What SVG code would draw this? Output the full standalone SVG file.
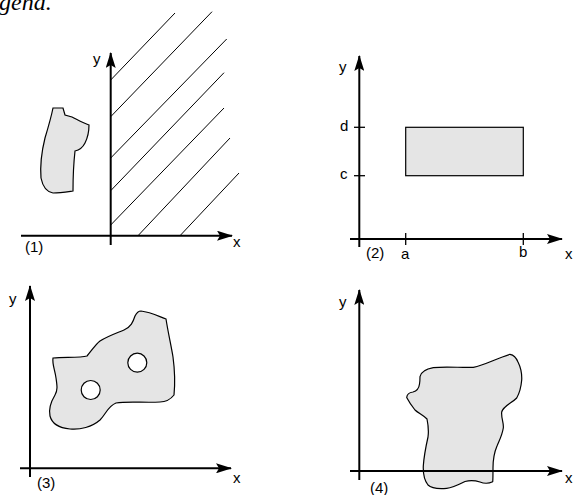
<svg xmlns="http://www.w3.org/2000/svg" width="573" height="495" viewBox="0 0 573 495">
<style>
.ax{stroke:#000;stroke-width:2;fill:none}
.tk{stroke:#000;stroke-width:1.3;fill:none}
.hatch{stroke:#000;stroke-width:1;fill:none}
.reg{fill:#e5e5e5;stroke:#000;stroke-width:1.2}
.hole{fill:#fff;stroke:#000;stroke-width:1.2}
.lbl{font-family:"Liberation Sans",Arial,sans-serif;font-size:15px;fill:#000}
.cap{font-family:"Liberation Serif","Times New Roman",serif;font-style:italic;font-size:24px;fill:#000}
</style>
<defs>
<marker id="ah" markerWidth="16" markerHeight="10" refX="15" refY="5" orient="auto" markerUnits="userSpaceOnUse">
<path d="M0,0 L16,5 L0,10 L3,5 Z" fill="#000"/>
</marker>
</defs>
<text class="cap" x="-1" y="10">gena.</text>

<g id="panel1">
<g id="hatching">
<line class="hatch" x1="110.7" y1="80" x2="175" y2="13"/>
<line class="hatch" x1="110.7" y1="116.7" x2="212" y2="11.7"/>
<line class="hatch" x1="110.7" y1="158" x2="226.7" y2="39"/>
<line class="hatch" x1="110.7" y1="190.7" x2="224" y2="72.7"/>
<line class="hatch" x1="110.7" y1="225" x2="224" y2="108"/>
<line class="hatch" x1="138" y1="235.7" x2="230" y2="138"/>
<line class="hatch" x1="180" y1="235.7" x2="239" y2="173"/>
</g>
<path id="blob1" class="reg" d="M53,108 L63,108 L65,115 L72,117 C78,120 83,123 89,125 C89,130 88,137 85,143 C83,147 80,150 75,151 C74,160 73,175 73,191 C66,192 60,193 53,193 C47,192 43,188 41,178 C40,165 42,150 45,138 C48,128 51,118 53,108 Z"/>
<line class="ax" x1="110.7" y1="245" x2="110.7" y2="53" marker-end="url(#ah)"/>
<line class="ax" x1="21" y1="235.7" x2="232" y2="235.7" marker-end="url(#ah)"/>
<text class="lbl" x="93" y="64">y</text>
<text class="lbl" x="233" y="247">x</text>
<text class="lbl" x="25" y="252">(1)</text>
</g>

<g id="panel2">
<rect id="rect2" class="reg" x="405.7" y="127.3" width="117.6" height="48.4"/>
<line class="tk" x1="354" y1="127.3" x2="365" y2="127.3"/>
<line class="tk" x1="354" y1="175.7" x2="365" y2="175.7"/>
<line class="tk" x1="405.7" y1="233" x2="405.7" y2="245"/>
<line class="tk" x1="523.3" y1="233" x2="523.3" y2="245"/>
<line class="ax" x1="359.3" y1="247" x2="359.3" y2="56" marker-end="url(#ah)"/>
<line class="ax" x1="350" y1="239" x2="562" y2="239" marker-end="url(#ah)"/>
<text class="lbl" x="339" y="72">y</text>
<text class="lbl" x="340" y="131">d</text>
<text class="lbl" x="340" y="179">c</text>
<text class="lbl" x="366" y="258">(2)</text>
<text class="lbl" x="401" y="259">a</text>
<text class="lbl" x="519" y="257">b</text>
<text class="lbl" x="565" y="259">x</text>
</g>

<g id="panel3">
<path id="blob3" class="reg" fill-rule="evenodd" d="M53,358 C65,357 80,358 87,356 C92,350 96,344 100,341 C108,336 117,333 124,330 C131,327 133,322 135,316 C137,312 139,311 141,311 C150,312 158,316 166,319 C168,332 171,345 173,357 C175,372 175,385 174,395 C170,400 165,402 160,402 C145,403 128,401 116,403 C108,406 106,414 100,420 C92,427 80,430 70,429 C60,428 52,424 50,416 C48,407 52,400 55,395 C58,390 57,385 56,378 C55,370 52,364 53,358 Z"/>
<circle class="hole" cx="90.7" cy="390" r="9.5"/>
<circle class="hole" cx="137.3" cy="362.7" r="9.5"/>
<line class="ax" x1="30" y1="477" x2="30" y2="286" marker-end="url(#ah)"/>
<line class="ax" x1="20" y1="468.3" x2="231" y2="468.3" marker-end="url(#ah)"/>
<text class="lbl" x="9" y="304">y</text>
<text class="lbl" x="233" y="483">x</text>
<text class="lbl" x="37" y="488">(3)</text>
</g>

<g id="panel4">
<path id="blob4" class="reg" d="M420,376.7 C421,372 426,369 433.3,367.7 C446,366 462,368 473.3,367.3 C485,365 495,359 510,354.3 C514,355 516,357 518,362 C521,368 522,374 521.7,380 C521,388 519,394 516.7,398 C512,403 503,406 501.7,412 C501,418 504,423 503.3,428 C502,436 499,441 497,446 C494,453 493,460 493,468 C493,474 493,479 492.7,481.7 C488,484 485,484 480,482 C474,480 470,480 465,481.5 C458,485 452,488 446.7,488.3 C438,489 431,488 428,485 C424,480 423,474 423.3,466 C424,455 426,446 428,437 C429,430 428,424 427,419 C423,415 418,413 415,410 C411,405 408,400 406.7,397.5 C407,394 409,392.5 413,392 C417,391 419,388 419.5,384 C420,381 420,379 420,376.7 Z"/>
<line class="ax" x1="359.3" y1="480" x2="359.3" y2="290" marker-end="url(#ah)"/>
<line class="ax" x1="350" y1="471" x2="562" y2="471" marker-end="url(#ah)"/>
<text class="lbl" x="339" y="307">y</text>
<text class="lbl" x="565" y="483">x</text>
<text class="lbl" x="370" y="493">(4)</text>
</g>
</svg>
